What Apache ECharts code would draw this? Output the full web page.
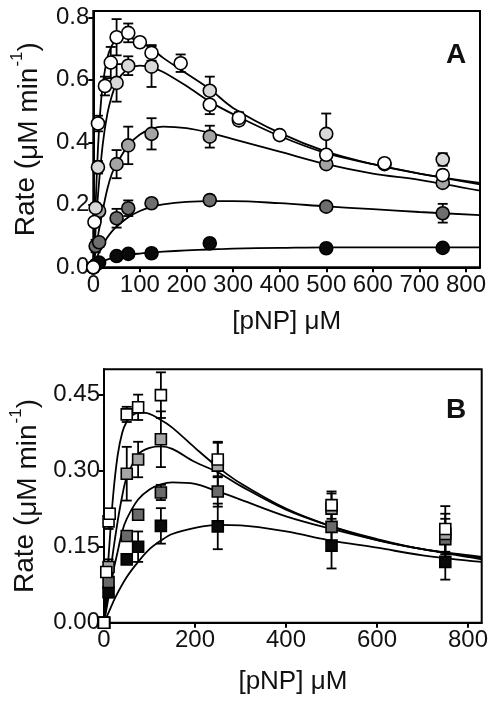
<!DOCTYPE html>
<html><head><meta charset="utf-8">
<script src="https://cdn.jsdelivr.net/npm/echarts@6/dist/echarts.min.js"></script>
<style>html,body{margin:0;padding:0;background:#fff;}#c{width:493px;height:702px;}</style>
</head><body><div id="c"></div>
<script>
// ---------- Panel A data ----------
const xTicksA = [0, 100, 200, 300, 400, 500, 600, 700, 800];
const yTicksA = [0, 0.2, 0.4, 0.6, 0.8];
const aWhiteX = [0, 2.5, 10, 25, 37.5, 50, 75, 100, 125, 187.5, 250, 312.5, 400, 500, 625, 750];
const aWhiteY = [0, 0.145, 0.46, 0.58, 0.655, 0.736, 0.75, 0.72, 0.686, 0.653, 0.52, 0.478, 0.423, 0.36, 0.333, 0.295];
const aWhiteE = [0, 0.01, 0.025, 0.03, 0.05, 0.058, 0.03, 0.005, 0.025, 0.028, 0.03, 0.018, 0.005, 0.01, 0.012, 0.015];
const aLightX = [0, 5, 10, 50, 75, 125, 250, 312.5, 500, 625, 750];
const aLightY = [0, 0.19, 0.32, 0.59, 0.645, 0.642, 0.565, 0.47, 0.427, 0.33, 0.345];
const aLightE = [0, 0.01, 0.02, 0.06, 0.03, 0.065, 0.045, 0.015, 0.065, 0.01, 0.02];
const aMedX = [0, 12.5, 50, 75, 125, 250, 500, 750];
const aMedY = [0, 0.18, 0.33, 0.39, 0.427, 0.418, 0.33, 0.27];
const aMedE = [0, 0.015, 0.045, 0.06, 0.05, 0.035, 0.01, 0.01];
const aDarkX = [0, 5, 12.5, 50, 75, 125, 250, 500, 750];
const aDarkY = [0, 0.068, 0.08, 0.157, 0.189, 0.205, 0.215, 0.194, 0.173];
const aDarkE = [0, 0.02, 0.015, 0.03, 0.025, 0.005, 0.015, 0.005, 0.03];
const aBlackX = [0, 5, 12.5, 50, 75, 125, 250, 500, 750];
const aBlackY = [0, 0.008, 0.015, 0.036, 0.043, 0.045, 0.077, 0.061, 0.062];
const aBlackE = [0, 0, 0, 0, 0, 0, 0, 0, 0];
// fitted curves, panel A
const aWhiteFitX = [0, 5, 10, 15, 20, 30, 40, 50, 60, 75, 100, 125, 150, 200, 250, 300, 400, 500, 600, 700, 830];
const aWhiteFitY = [0, 0.2, 0.38, 0.5, 0.58, 0.67, 0.71, 0.73, 0.735, 0.735, 0.72, 0.7, 0.67, 0.62, 0.57, 0.51, 0.43, 0.37, 0.33, 0.3, 0.27];
const aLightFitX = [0, 5, 10, 20, 30, 40, 50, 60, 75, 100, 125, 150, 200, 250, 300, 400, 500, 600, 700, 830];
const aLightFitY = [0, 0.12, 0.23, 0.39, 0.49, 0.55, 0.59, 0.615, 0.635, 0.645, 0.64, 0.625, 0.58, 0.53, 0.49, 0.42, 0.365, 0.33, 0.3, 0.265];
const aMedFitX = [0, 10, 20, 30, 40, 50, 75, 100, 125, 150, 200, 250, 300, 400, 500, 600, 700, 830];
const aMedFitY = [0, 0.1, 0.18, 0.25, 0.3, 0.33, 0.39, 0.425, 0.443, 0.45, 0.445, 0.43, 0.41, 0.37, 0.33, 0.3, 0.28, 0.245];
const aDarkFitX = [0, 10, 20, 30, 40, 50, 75, 100, 125, 150, 200, 250, 300, 400, 500, 600, 700, 830];
const aDarkFitY = [0, 0.04, 0.07, 0.095, 0.115, 0.13, 0.16, 0.18, 0.193, 0.201, 0.209, 0.212, 0.212, 0.205, 0.195, 0.186, 0.177, 0.167];
const aBlackFitX = [0, 10, 25, 50, 75, 100, 125, 150, 200, 250, 300, 400, 500, 600, 700, 830];
const aBlackFitY = [0, 0.012, 0.022, 0.033, 0.04, 0.044, 0.047, 0.05, 0.054, 0.057, 0.06, 0.062, 0.064, 0.064, 0.064, 0.064];

// ---------- Panel B data ----------
const xTicksB = [0, 200, 400, 600, 800];
const yTicksB = [0, 0.15, 0.3, 0.45];
const bWhiteX = [0, 5, 10, 12.5, 50, 75, 125, 250, 500, 750];
const bWhiteY = [0, 0.1, 0.2, 0.215, 0.411, 0.425, 0.449, 0.322, 0.232, 0.185];
const bWhiteE = [0, 0.01, 0.015, 0.01, 0.015, 0.025, 0.045, 0.035, 0.027, 0.045];
const bLightX = [0, 10, 50, 75, 125, 250, 500, 750];
const bLightY = [0, 0.11, 0.294, 0.322, 0.362, 0.31, 0.225, 0.175];
const bLightE = [0, 0.015, 0.053, 0.035, 0.055, 0.045, 0.03, 0.04];
const bMedX = [0, 10, 50, 75, 125, 250, 500, 750];
const bMedY = [0, 0.08, 0.171, 0.213, 0.257, 0.259, 0.189, 0.165];
const bMedE = [0, 0.01, 0, 0, 0.015, 0.03, 0.04, 0.04];
const bBlackX = [0, 10, 50, 75, 125, 250, 500, 750];
const bBlackY = [0, 0.06, 0.125, 0.15, 0.191, 0.19, 0.152, 0.12];
const bBlackE = [0, 0.01, 0, 0.03, 0.035, 0.045, 0.045, 0.035];
const bWhiteFitX = [0, 10, 20, 30, 40, 50, 60, 75, 90, 125, 150, 200, 250, 300, 400, 500, 600, 700, 830];
const bWhiteFitY = [0, 0.13, 0.25, 0.33, 0.375, 0.397, 0.408, 0.414, 0.414, 0.4, 0.385, 0.345, 0.307, 0.275, 0.225, 0.19, 0.165, 0.145, 0.13];
const bLightFitX = [0, 10, 20, 30, 40, 50, 75, 100, 125, 150, 200, 250, 300, 400, 500, 600, 700, 830];
const bLightFitY = [0, 0.07, 0.14, 0.2, 0.25, 0.287, 0.332, 0.345, 0.348, 0.343, 0.317, 0.297, 0.27, 0.223, 0.19, 0.163, 0.145, 0.128];
const bMedFitX = [0, 10, 20, 30, 40, 50, 75, 100, 125, 150, 200, 250, 300, 400, 500, 600, 700, 830];
const bMedFitY = [0, 0.05, 0.1, 0.14, 0.18, 0.205, 0.243, 0.263, 0.273, 0.277, 0.274, 0.259, 0.243, 0.21, 0.185, 0.163, 0.145, 0.125];
const bBlackFitX = [0, 10, 25, 50, 75, 100, 125, 150, 200, 250, 300, 400, 500, 600, 700, 830];
const bBlackFitY = [0, 0.02, 0.05, 0.09, 0.12, 0.145, 0.162, 0.175, 0.187, 0.193, 0.192, 0.18, 0.162, 0.148, 0.133, 0.12];

const FONT = 'Liberation Sans, Arial, sans-serif';
const chart = echarts.init(document.getElementById('c'), null, {renderer: 'canvas'});

function pairs(xs, ys) { return xs.map((x, i) => [x, ys[i]]); }
function fitSeries(p, xs, ys) {
  return {type: 'line', xAxisIndex: p, yAxisIndex: p, data: pairs(xs, ys), smooth: 0.35,
    symbol: 'none', z: 2, silent: true, lineStyle: {color: '#000', width: 1.8}};
}
function ptSeries(p, xs, ys, color, sym, size) {
  return {type: 'scatter', xAxisIndex: p, yAxisIndex: p, data: pairs(xs, ys), symbol: sym,
    symbolSize: size, z: 5, silent: true,
    itemStyle: {color: color, borderColor: '#000', borderWidth: 1.6, opacity: 1}};
}
function errSeries(p, xs, ys, es, cap) {
  const data = [];
  xs.forEach((x, i) => { if (es[i] > 0) data.push([x, ys[i] - es[i], ys[i] + es[i]]); });
  return {type: 'custom', xAxisIndex: p, yAxisIndex: p, data: data, z: 3, silent: true,
    encode: {x: 0, y: [1, 2]},
    renderItem: function (params, api) {
      const lo = api.coord([api.value(0), api.value(1)]);
      const hi = api.coord([api.value(0), api.value(2)]);
      const h = cap / 2;
      const st = {stroke: '#000', lineWidth: 1.8};
      return {type: 'group', children: [
        {type: 'line', shape: {x1: lo[0], y1: lo[1], x2: hi[0], y2: hi[1]}, style: st},
        {type: 'line', shape: {x1: lo[0] - h, y1: lo[1], x2: lo[0] + h, y2: lo[1]}, style: st},
        {type: 'line', shape: {x1: hi[0] - h, y1: hi[1], x2: hi[0] + h, y2: hi[1]}, style: st}
      ]};
    }};
}

const axisCommon = {
  axisLine: {show: true, onZero: false, lineStyle: {color: '#000', width: 2}},
  axisTick: {show: true, inside: false, length: 5, lineStyle: {color: '#000', width: 2}},
  splitLine: {show: false}
};
const yName = 'Rate ({t|\u03BCM min}{s|-1}{t|)}';
const nameRich = {
  t: {fontSize: 28, fontFamily: FONT, color: '#111', lineHeight: 34, verticalAlign: 'bottom'},
  s: {fontSize: 17, fontFamily: FONT, color: '#111', lineHeight: 34, verticalAlign: 'top', padding: [0, 0, 0, 1]}
};
const tickFont = 24;

const option = {
  animation: false,
  backgroundColor: '#fff',
  title: [
    {text: 'A', left: 441, top: 36, textStyle: {fontSize: 28, fontWeight: 'bold', fontFamily: FONT, color: '#111'}},
    {text: 'B', left: 441, top: 391, textStyle: {fontSize: 28, fontWeight: 'bold', fontFamily: FONT, color: '#111'}}
  ],
  grid: [
    {left: 93.3, top: 11, right: 13, height: 256.3, show: true, borderColor: '#000', borderWidth: 2, containLabel: false},
    {left: 101.7, top: 369.3, right: 11.3, height: 253.4, show: true, borderColor: '#000', borderWidth: 2, containLabel: false}
  ],
  xAxis: [
    Object.assign({}, axisCommon, {gridIndex: 0, type: 'value', min: 0, max: 830, interval: 100,
      axisTick: Object.assign({}, axisCommon.axisTick, {customValues: xTicksA}),
      axisLabel: {customValues: xTicksA, fontSize: tickFont, fontFamily: FONT, color: '#111', margin: 6},
      name: '[pNP] \u03BCM', nameLocation: 'middle', nameGap: 42,
      nameTextStyle: {fontSize: 26, fontFamily: FONT, color: '#111'}}),
    Object.assign({}, axisCommon, {gridIndex: 1, type: 'value', min: 0, max: 830, interval: 200,
      axisTick: Object.assign({}, axisCommon.axisTick, {customValues: xTicksB}),
      axisLabel: {customValues: xTicksB, fontSize: tickFont, fontFamily: FONT, color: '#111', margin: 6},
      name: '[pNP] \u03BCM', nameLocation: 'middle', nameGap: 46,
      nameTextStyle: {fontSize: 26, fontFamily: FONT, color: '#111'}})
  ],
  yAxis: [
    Object.assign({}, axisCommon, {gridIndex: 0, type: 'value', min: 0, max: 0.82, interval: 0.2,
      axisTick: Object.assign({}, axisCommon.axisTick, {customValues: yTicksA}),
      axisLabel: {customValues: yTicksA, fontSize: tickFont, fontFamily: FONT, color: '#111', margin: 4,
        formatter: v => v.toFixed(1)},
      name: yName, nameLocation: 'middle', nameGap: 50, nameRotate: 90,
      nameTextStyle: {rich: nameRich, fontSize: 28, fontFamily: FONT, color: '#111'}}),
    Object.assign({}, axisCommon, {gridIndex: 1, type: 'value', min: 0, max: 0.5, interval: 0.15,
      axisTick: Object.assign({}, axisCommon.axisTick, {customValues: yTicksB}),
      axisLabel: {customValues: yTicksB, fontSize: tickFont, fontFamily: FONT, color: '#111', margin: 4,
        formatter: v => v.toFixed(2)},
      name: yName, nameLocation: 'middle', nameGap: 62, nameRotate: 90,
      nameTextStyle: {rich: nameRich, fontSize: 28, fontFamily: FONT, color: '#111'}})
  ],
  series: [
    fitSeries(0, aWhiteFitX, aWhiteFitY),
    fitSeries(0, aLightFitX, aLightFitY),
    fitSeries(0, aMedFitX, aMedFitY),
    fitSeries(0, aDarkFitX, aDarkFitY),
    fitSeries(0, aBlackFitX, aBlackFitY),
    errSeries(0, aWhiteX, aWhiteY, aWhiteE, 10),
    errSeries(0, aLightX, aLightY, aLightE, 10),
    errSeries(0, aMedX, aMedY, aMedE, 10),
    errSeries(0, aDarkX, aDarkY, aDarkE, 10),
    errSeries(0, aBlackX, aBlackY, aBlackE, 10),
    ptSeries(0, aBlackX, aBlackY, '#0a0a0a', 'circle', 13),
    ptSeries(0, aDarkX, aDarkY, '#6e6e6e', 'circle', 13),
    ptSeries(0, aMedX, aMedY, '#a4a4a4', 'circle', 13),
    ptSeries(0, aLightX, aLightY, '#d8d8d8', 'circle', 13),
    ptSeries(0, aWhiteX, aWhiteY, '#ffffff', 'circle', 13),
    fitSeries(1, bWhiteFitX, bWhiteFitY),
    fitSeries(1, bLightFitX, bLightFitY),
    fitSeries(1, bMedFitX, bMedFitY),
    fitSeries(1, bBlackFitX, bBlackFitY),
    errSeries(1, bWhiteX, bWhiteY, bWhiteE, 10),
    errSeries(1, bLightX, bLightY, bLightE, 10),
    errSeries(1, bMedX, bMedY, bMedE, 10),
    errSeries(1, bBlackX, bBlackY, bBlackE, 10),
    ptSeries(1, bBlackX, bBlackY, '#0a0a0a', 'rect', 11),
    ptSeries(1, bMedX, bMedY, '#6a6a6a', 'rect', 11),
    ptSeries(1, bLightX, bLightY, '#a6a6a6', 'rect', 11),
    ptSeries(1, bWhiteX, bWhiteY, '#ffffff', 'rect', 11)
  ]
};
chart.setOption(option);
</script>
</body></html>
